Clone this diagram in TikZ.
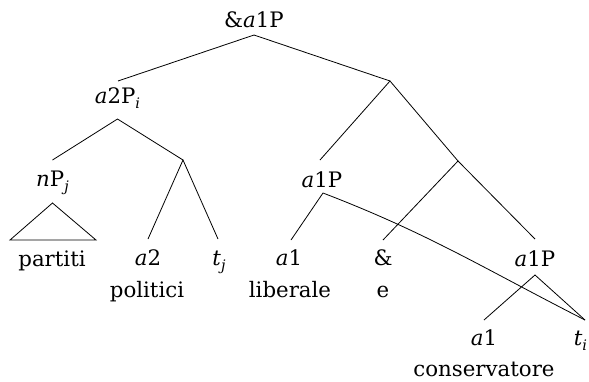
\documentclass[tikz,border=0pt]{standalone}
\usepackage{fontspec}
\setmainfont{DejaVu Serif}
\newcommand\lowsub[1]{\raisebox{-0.28em}{\fontsize{14.5pt}{14.5pt}\selectfont\itshape #1}}
\begin{document}
\begin{tikzpicture}[x=1pt,y=-1pt,
  lbl/.style={anchor=base,inner sep=0pt,font=\fontsize{21.3pt}{23pt}\selectfont},
  edge/.style={line width=0.8pt,line join=miter}]
\useasboundingbox (0,0) rectangle (589,381);
% labels
\node[lbl] (root) at (254,27) {\&\textit{a}1P};
\node[lbl] (a2P) at (117.5,103) {\textit{a}2P\lowsub{i}};
\node[lbl] (nP) at (52.5,186) {\textit{n}P\lowsub{j}};
\node[lbl] (a1Pl) at (322,187) {\textit{a}1P};
\node[lbl] (partiti) at (52,266) {partiti};
\node[lbl] (a2) at (148,265) {\textit{a}2};
\node[lbl] (politici) at (147,297) {politici};
\node[lbl] (tj) at (219,265) {\textit{t}\lowsub{j}};
\node[lbl] (a1l) at (289,265) {\textit{a}1};
\node[lbl] (liberale) at (290,297) {liberale};
\node[lbl] (amp) at (383,265) {\&};
\node[lbl] (e) at (383,297) {e};
\node[lbl] (a1Pr) at (535,266) {\textit{a}1P};
\node[lbl] (a1r) at (484,345) {\textit{a}1};
\node[lbl] (cons) at (484,376) {conservatore};
\node[lbl] (ti) at (580.5,345) {\textit{t}\lowsub{i}};
% junctions
\coordinate (R) at ([yshift=-8pt]root.base);
\coordinate (X1) at (390,81);
\coordinate (J1) at (183,160);
\coordinate (X2) at (458,161);
\coordinate (tri) at ([yshift=-17pt]nP.base);
\coordinate (triL) at (10,240);
\coordinate (triR) at (96,240);
\coordinate (tiTop) at ([yshift=25pt,xshift=4.5pt]ti.base);
% edges
\draw[edge] ([yshift=22pt,xshift=0.5pt]a2P.base) -- (R) -- (X1);
\draw[edge] ([yshift=26pt]nP.base) -- ([yshift=-16pt]a2P.base) -- (J1);
\draw[edge] ([yshift=26pt]a2.base) -- (J1) -- ([yshift=26pt,xshift=-1pt]tj.base);
\draw[edge] (triL) -- (tri) -- (triR) -- cycle;
\draw[edge] ([yshift=27pt,xshift=-2pt]a1Pl.base) -- (X1) -- (X2);
\draw[edge] ([yshift=25pt,xshift=2pt]a1l.base) -- ([yshift=-6pt,xshift=1pt]a1Pl.base)
  to[out=-21,in=153] (tiTop);
\draw[edge] ([yshift=25pt]amp.base) -- (X2) -- ([yshift=27pt]a1Pr.base);
\draw[edge] ([yshift=25pt]a1r.base) -- ([yshift=-9pt]a1Pr.base) -- (tiTop);
\end{tikzpicture}
\end{document}
